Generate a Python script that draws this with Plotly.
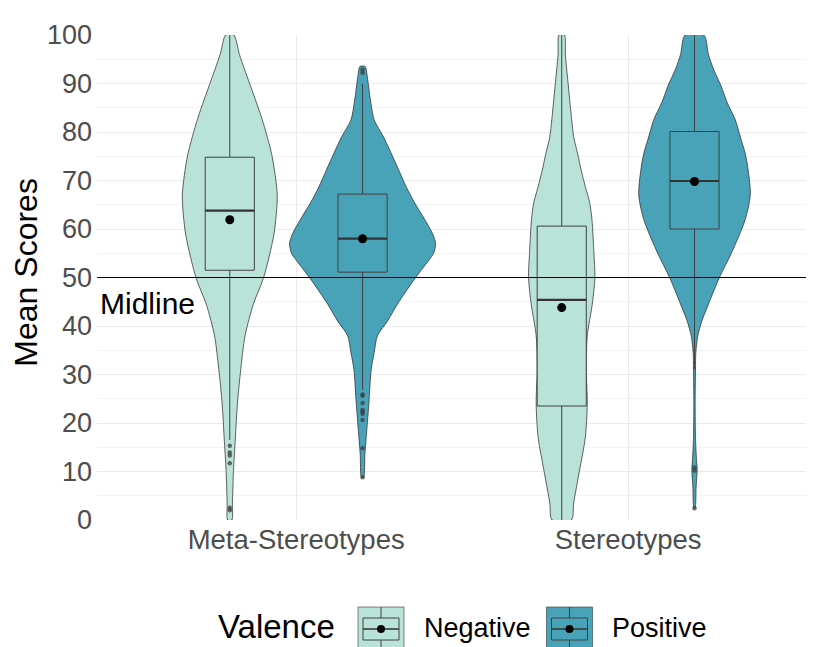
import plotly.graph_objects as go

# ---------------- data ----------------
categories = ["Meta-Stereotypes", "Stereotypes"]
groups = ["Negative", "Positive"]
fill_colors = {"Negative": "#B9E3D8", "Positive": "#48A3B9"}

# violin outlines: score levels and half-widths (x-axis units)
ms_neg_y = [0, 3.5, 10, 17, 24, 31, 38, 44.5, 50, 58.5, 63, 67, 71, 75.5, 82.5, 89, 96, 100]
ms_neg_w = [0.006, 0.008, 0.011, 0.017, 0.023, 0.033, 0.046, 0.071, 0.102, 0.132, 0.140, 0.143,
            0.137, 0.126, 0.098, 0.065, 0.029, 0.012]

ms_pos_y = [8.8, 13.5, 17, 24, 31, 34.5, 38, 41, 44.5, 50, 53.5, 55, 57, 59, 62, 65.5, 68.5, 72,
            75.5, 79, 82.5, 86, 89.5, 92, 93.5]
ms_pos_w = [0.003, 0.007, 0.011, 0.019, 0.026, 0.035, 0.045, 0.075, 0.105, 0.160, 0.199, 0.214,
            0.220, 0.211, 0.187, 0.156, 0.133, 0.110, 0.087, 0.063, 0.035, 0.025, 0.018, 0.013, 0.008]

s_neg_y = [0, 3.5, 10, 17, 24, 31, 38, 44.5, 50, 55, 62, 65.5, 68.5, 72, 75.5, 79, 82.5, 89.5, 96, 100]
s_neg_w = [0.029, 0.036, 0.053, 0.071, 0.077, 0.074, 0.077, 0.092, 0.100, 0.097, 0.091, 0.084,
           0.072, 0.059, 0.048, 0.036, 0.030, 0.020, 0.011, 0.008]

s_pos_y = [2.5, 7, 10.5, 12.5, 17, 24, 31, 34.5, 38, 41, 44.5, 50, 55, 62, 67, 72, 75.5, 79, 82.5,
           86, 89.5, 93, 96, 100]
s_pos_w = [0.0015, 0.005, 0.008, 0.006, 0.003, 0.002, 0.003, 0.004, 0.010, 0.022, 0.042, 0.075,
           0.111, 0.153, 0.168, 0.162, 0.153, 0.138, 0.123, 0.099, 0.080, 0.057, 0.042, 0.028]

# box statistics, order: (MS,Neg), (MS,Pos), (S,Neg), (S,Pos)
box_q1 = [51.5, 51.1, 23.5, 60.0]
box_median = [63.8, 58.0, 45.4, 69.9]
box_q3 = [74.8, 67.2, 60.6, 80.1]
box_low = [16.5, 26.8, 0.0, 31.0]
box_high = [100.0, 90.0, 100.0, 100.0]
group_means = [61.9, 58.0, 43.8, 69.8]

ms_neg_outliers = [15.3, 13.9, 13.3, 11.7, 2.5, 2.0]
ms_pos_outliers = [92.9, 92.2, 25.9, 25.6, 24.1, 22.7, 22.3, 21.9, 20.6, 14.8, 8.8]
s_neg_outliers = []
s_pos_outliers = [10.8, 10.2, 2.4]

y_ticks = [0, 10, 20, 30, 40, 50, 60, 70, 80, 90, 100]
midline_value = 50
midline_label_y = 44.6

violin_y = [ms_neg_y, ms_pos_y, s_neg_y, s_pos_y]
violin_w = [ms_neg_w, ms_pos_w, s_neg_w, s_pos_w]
outliers = [ms_neg_outliers, ms_pos_outliers, s_neg_outliers, s_pos_outliers]

# ---------------- style ----------------
FONT = "Arial, Liberation Sans, sans-serif"
DODGE = 0.2
BOX_W = 0.148
OUTLINE = "rgba(40,40,40,0.8)"
BOXLINE = "#404040"

BODY = 8  # page body margin offset
W, H = 814 - BODY, 647 - BODY
PL, PR, PT, PB = 97, 814, 35, 520     # plot area in screen pixels
ML, MT = PL - BODY, PT - BODY
MR = (W + BODY) - PR
MB = (H + BODY) - PB
PW, PH = PR - PL, PB - PT


def pxx(x):
    return (x - PL) / PW


def pxy(y):
    return (PB - y) / PH


fig = go.Figure()


def pos(ci, gi):
    return ci + 1 + (gi - 0.5) * 2 * DODGE


# violins
k = 0
for ci, cat in enumerate(categories):
    for gi, grp in enumerate(groups):
        center = pos(ci, gi)
        ys = violin_y[k]
        ws = violin_w[k]
        xs_poly = [center + w for w in ws] + [center - w for w in reversed(ws)]
        ys_poly = list(ys) + list(reversed(ys))
        xs_poly.append(xs_poly[0])
        ys_poly.append(ys_poly[0])
        fig.add_trace(go.Scatter(
            x=xs_poly, y=ys_poly, mode="lines", fill="toself",
            fillcolor=fill_colors[grp],
            line=dict(color=OUTLINE, width=0.9, shape="spline", smoothing=0.8),
            hoverinfo="skip", showlegend=False))
        k += 1

# boxes
k = 0
for ci, cat in enumerate(categories):
    for gi, grp in enumerate(groups):
        c = pos(ci, gi)
        h = BOX_W / 2
        fig.add_trace(go.Scatter(
            x=[c, c, None, c, c], y=[box_low[k], box_q1[k], None, box_q3[k], box_high[k]],
            mode="lines", line=dict(color=BOXLINE, width=1), hoverinfo="skip", showlegend=False))
        fig.add_trace(go.Scatter(
            x=[c - h, c + h, c + h, c - h, c - h],
            y=[box_q1[k], box_q1[k], box_q3[k], box_q3[k], box_q1[k]],
            mode="lines", fill="toself", fillcolor=fill_colors[grp],
            line=dict(color=BOXLINE, width=1), hoverinfo="skip", showlegend=False))
        fig.add_trace(go.Scatter(
            x=[c - h, c + h], y=[box_median[k], box_median[k]],
            mode="lines", line=dict(color="#333333", width=2.2),
            hoverinfo="skip", showlegend=False))
        if outliers[k]:
            fig.add_trace(go.Scatter(
                x=[c] * len(outliers[k]), y=outliers[k], mode="markers",
                marker=dict(color="rgba(60,60,60,0.75)", size=4.5),
                hoverinfo="skip", showlegend=False))
        fig.add_trace(go.Scatter(
            x=[c], y=[group_means[k]], mode="markers",
            marker=dict(color="black", size=9),
            hoverinfo="skip", showlegend=False))
        k += 1

# midline
fig.add_shape(type="line", xref="paper", x0=0, x1=1, yref="y", y0=midline_value, y1=midline_value,
              line=dict(color="black", width=1))

annotations = [
    dict(text="Midline", xref="paper", x=pxx(98), xanchor="left", yref="y", y=midline_label_y,
         yanchor="middle", showarrow=False, font=dict(family=FONT, size=30, color="black")),
    dict(text="Mean Scores", xref="paper", x=pxx(26), xanchor="center", yref="paper", y=0.51,
         yanchor="middle", textangle=-90, showarrow=False,
         font=dict(family=FONT, size=32, color="black")),
    dict(text="Valence", xref="paper", x=pxx(216), xanchor="left", yref="paper", y=pxy(626),
         yanchor="middle", showarrow=False, font=dict(family=FONT, size=33, color="black")),
]

# legend keys
legend_keys = [("Negative", 358, 421.5), ("Positive", 546.5, 610)]
for grp, kx, tx in legend_keys:
    cx = kx + 23
    fig.add_shape(type="rect", xref="paper", yref="paper", x0=pxx(kx), x1=pxx(kx + 46),
                  y0=pxy(607), y1=pxy(653), fillcolor=fill_colors[grp],
                  line=dict(color="rgba(40,40,40,0.55)", width=1))
    fig.add_shape(type="line", xref="paper", yref="paper", x0=pxx(cx), x1=pxx(cx),
                  y0=pxy(607), y1=pxy(618), line=dict(color=BOXLINE, width=1))
    fig.add_shape(type="line", xref="paper", yref="paper", x0=pxx(cx), x1=pxx(cx),
                  y0=pxy(640), y1=pxy(653), line=dict(color=BOXLINE, width=1))
    fig.add_shape(type="rect", xref="paper", yref="paper", x0=pxx(kx + 5), x1=pxx(kx + 41),
                  y0=pxy(618), y1=pxy(640), fillcolor=fill_colors[grp],
                  line=dict(color=BOXLINE, width=1))
    fig.add_shape(type="line", xref="paper", yref="paper", x0=pxx(kx + 5), x1=pxx(kx + 41),
                  y0=pxy(629), y1=pxy(629), line=dict(color="#333333", width=1.6))
    fig.add_shape(type="circle", xref="paper", yref="paper", x0=pxx(cx - 4), x1=pxx(cx + 4),
                  y0=pxy(633), y1=pxy(625), fillcolor="black", line=dict(width=0))
    annotations.append(dict(text=grp, xref="paper", x=pxx(tx), xanchor="left", yref="paper",
                            y=pxy(628), yanchor="middle", showarrow=False,
                            font=dict(family=FONT, size=27, color="black")))

fig.update_layout(
    width=W, height=H,
    margin=dict(l=ML, r=MR, t=MT, b=MB, pad=0),
    paper_bgcolor="white", plot_bgcolor="white",
    showlegend=False,
    annotations=annotations,
    font=dict(family=FONT),
    xaxis=dict(range=[0.4, 2.56], tickmode="array", tickvals=[1, 2], ticktext=categories,
               showgrid=True, gridcolor="#EBEBEB", gridwidth=1.2, zeroline=False,
               showline=False, ticks="", tickfont=dict(family=FONT, size=27.5, color="#4D4D4D")),
    yaxis=dict(range=[0, 100], tickmode="array", tickvals=y_ticks,
               showgrid=True, gridcolor="#EBEBEB", gridwidth=1.2, zeroline=False,
               showline=False, ticks="", ticklabelstandoff=4,
               tickfont=dict(family=FONT, size=27, color="#4D4D4D"),
               minor=dict(dtick=5, showgrid=True, gridcolor="#F3F3F3", gridwidth=0.8)),
)

fig.write_html("out.html")
